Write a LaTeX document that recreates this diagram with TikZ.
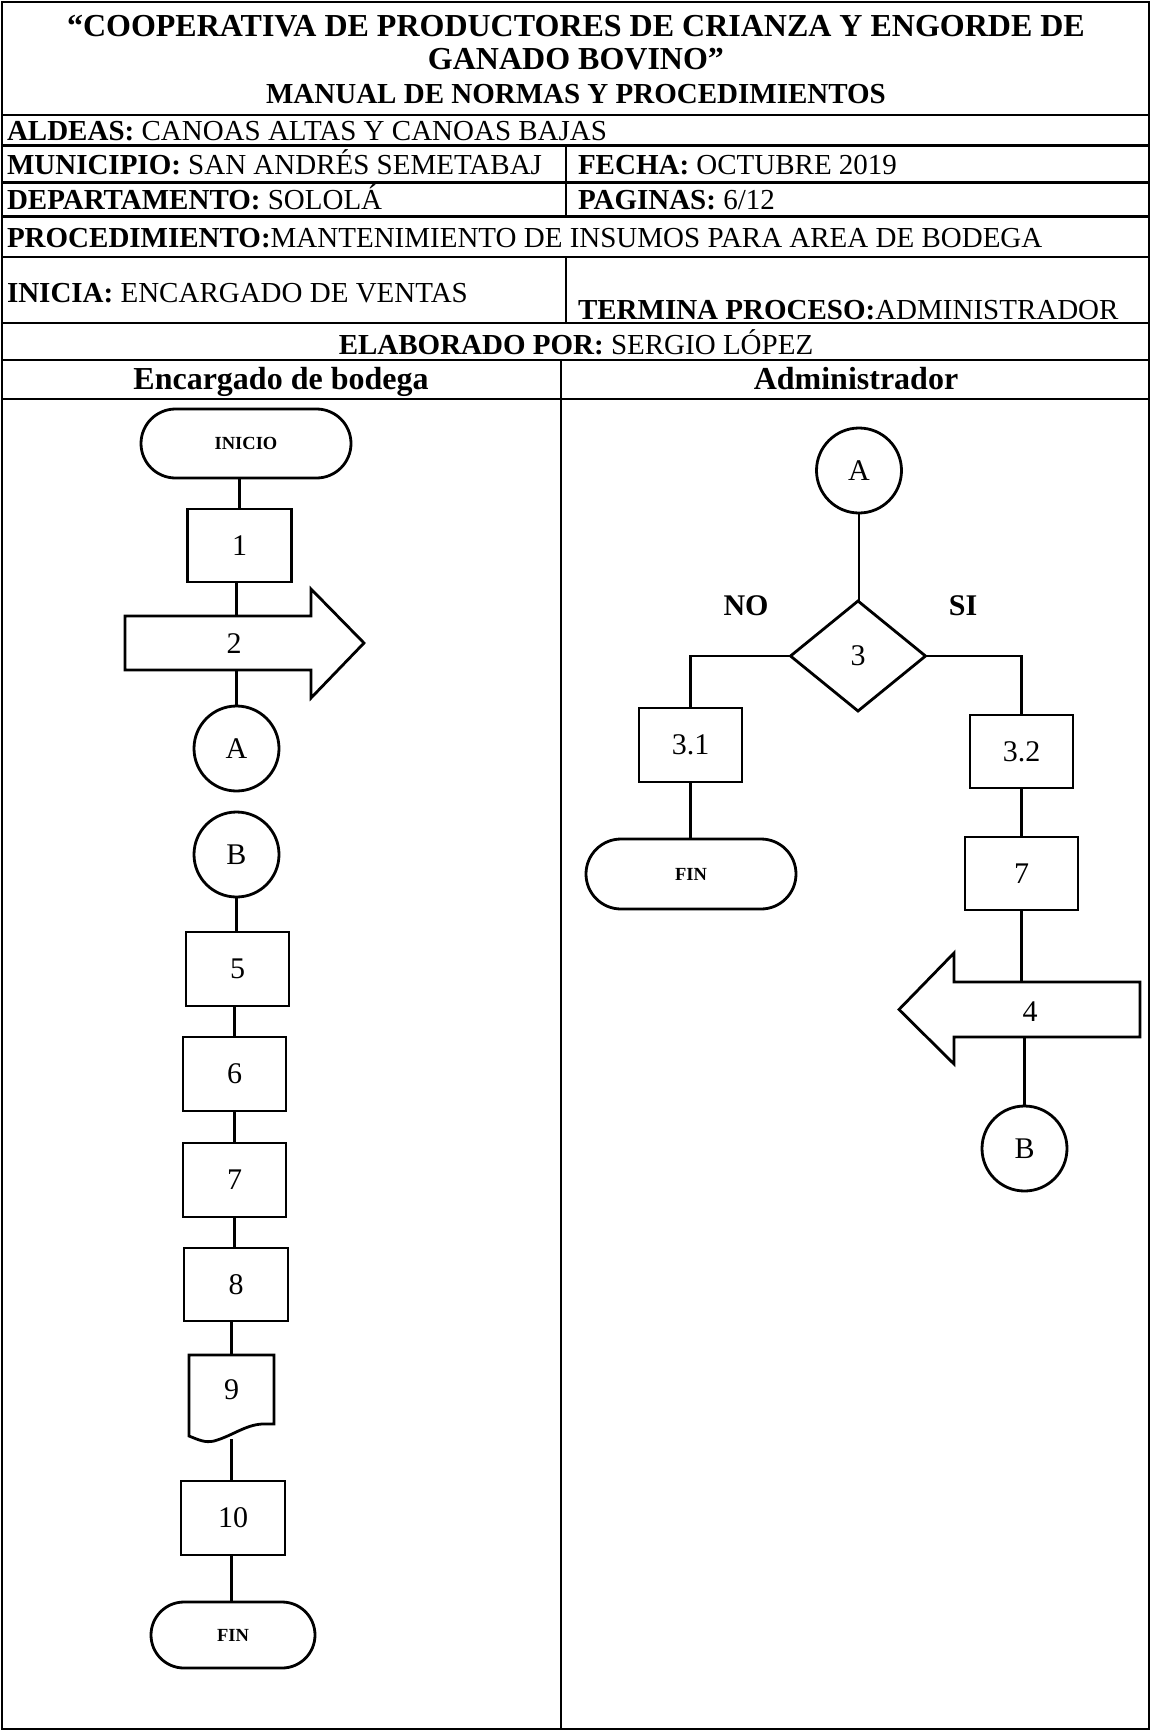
\documentclass[tikz,border=0pt]{standalone}
\usepackage{fontspec}
\setmainfont{Liberation Serif}
\usetikzlibrary{shapes.geometric,shapes.misc}
\newcommand\fttitle{\fontsize{32}{36}\selectfont\bfseries}
\newcommand\ftmanual{\fontsize{29}{33}\selectfont\bfseries}
\newcommand\ftrow{\fontsize{29}{33}\selectfont}
\newcommand\ftlane{\fontsize{32}{36}\selectfont\bfseries}
\newcommand\ftnum{\fontsize{30}{30}\selectfont}
\newcommand\ftterm{\fontsize{18.5}{20}\selectfont\bfseries}
\newcommand\ftlab{\fontsize{30}{30}\selectfont\bfseries}
\begin{document}
\begin{tikzpicture}[x=1pt,y=-1pt,
  every node/.style={inner sep=0pt,outer sep=0pt},
  tline/.style={line width=2.4pt,line cap=rect},
  shp/.style={draw,line width=2.8pt,align=center},
  box/.style={shp,rectangle,minimum width=103pt,minimum height=74pt,font=\ftnum},
  term/.style={shp,rounded rectangle,font=\ftterm},
  conn/.style={shp,circle,minimum size=85pt,font=\ftnum},
  dec/.style={shp,diamond,minimum width=135pt,minimum height=110pt,font=\ftnum},
  body/.style={rectangle,minimum width=186pt},
  outl/.style={line width=2.8pt,line join=miter},
  link/.style={line width=2.8pt},
  hdr/.style={anchor=base west,font=\ftrow},
  lab/.style={font=\ftlab}]
\useasboundingbox (0,0) rectangle (1152,1732);
\fill[white] (0,0) rectangle (1152,1732);

% ---------- table ----------
\draw[tline] (2,2) rectangle (1149,1729);
\foreach \yy in {115,145.5,182.5,216.5,257,323,360,399}
  \draw[tline] (2,\yy) -- (1149,\yy);
\draw[tline] (566,145.5) -- (566,216.5);
\draw[tline] (566,257) -- (566,323);
\draw[tline] (561,360) -- (561,1729);

% ---------- header texts ----------
\node[anchor=base,font=\fttitle] (t1) at (576,36) {“COOPERATIVA DE PRODUCTORES DE CRIANZA Y ENGORDE DE};
\node[anchor=base,font=\fttitle] (t2) at (576,69) {GANADO BOVINO”};
\node[anchor=base,font=\ftmanual] (t3) at (576,103) {MANUAL DE NORMAS Y PROCEDIMIENTOS};
\node[hdr] (h1) at (7,140) {\textbf{ALDEAS:} CANOAS ALTAS Y CANOAS BAJAS};
\node[hdr] (h2) at (7,174) {\textbf{MUNICIPIO:} SAN ANDRÉS SEMETABAJ};
\node[hdr] (h3) at (578,174) {\textbf{FECHA:} OCTUBRE 2019};
\node[hdr] (h4) at (7,209) {\textbf{DEPARTAMENTO:} SOLOLÁ};
\node[hdr] (h5) at (578,209) {\textbf{PAGINAS:} 6/12};
\node[hdr] (h6) at (7,247) {\textbf{PROCEDIMIENTO:}MANTENIMIENTO DE INSUMOS PARA AREA DE BODEGA};
\node[hdr] (h7) at (7,302) {\textbf{INICIA:} ENCARGADO DE VENTAS};
\node[hdr] (h8) at (578,319) {\textbf{TERMINA PROCESO:}ADMINISTRADOR};
\node[anchor=base,font=\ftrow] (h9) at (576,354) {\textbf{ELABORADO POR:} SERGIO LÓPEZ};
\node[anchor=base,font=\ftlane] (l1) at (281,389) {Encargado de bodega};
\node[anchor=base,font=\ftlane] (l2) at (856,389) {Administrador};

% ---------- left lane ----------
\node[term,minimum width=210pt,minimum height=69pt] (ini) at (246,443.5) {INICIO};
\node[box,minimum width=104pt,minimum height=73pt] (b1) at (239.5,545.5) {1};
\node[body,minimum height=54pt] (s2) at (218,643) {};
\draw[outl] (s2.north west) -- (s2.north east) -- ([yshift=27pt]s2.north east)
  -- ([xshift=53pt]s2.east) -- ([yshift=-28pt]s2.south east) -- (s2.south east)
  -- (s2.south west) -- cycle;
\node[font=\ftnum] (n2) at (234,644) {2};
\node[conn] (la) at (236.5,748.5) {A};
\node[conn] (lb) at (236.5,854.5) {B};
\node[box] (b5) at (237.5,969) {5};
\node[box] (b6) at (234.5,1074) {6};
\node[box] (b7) at (234.5,1180) {7};
\node[box,minimum width=104pt,minimum height=73pt] (b8) at (236,1284.5) {8};
\draw[outl] (274,1424) -- (274,1355) -- (189,1355) -- (189,1436)
  .. controls (199,1440) and (205,1443) .. (214,1441)
  .. controls (232,1436) and (245,1425) .. (262,1424) -- cycle;
\node[minimum width=85pt,minimum height=69pt,font=\ftnum] (d9) at (231.5,1389.5) {9};
\coordinate (d9b) at (231.5,1439);
\node[box,minimum width=104pt] (b10) at (233,1518) {10};
\node[term,minimum width=164pt,minimum height=66pt] (fin1) at (233,1635) {FIN};

\draw[link] (b1.north |- ini.south) -- (b1.north);
\draw[link] (b1.south -| la.north) -- (la.north |- s2.north);
\draw[link] (la.north |- s2.south) -- (la.north);
\draw[link] (lb.south) -- (lb.south |- b5.north);
\draw[link] (b5.south -| b6.north) -- (b6.north);
\draw[link] (b6.south) -- (b6.south |- b7.north);
\draw[link] (b7.south) -- (b7.south |- b8.north);
\draw[link] (d9.north |- b8.south) -- (d9.north);
\draw[link] (d9b) -- (d9b |- b10.north);
\draw[link] (d9b |- b10.south) -- (d9b |- fin1.north);

% ---------- right lane ----------
\node[conn] (ra) at (859,470.5) {A};
\node[dec] (d3) at (858,656) {3};
\node[lab] (no) at (746,606) {NO};
\node[lab] (si) at (963,606) {SI};
\node[box] (b31) at (690.5,745) {3.1};
\node[term,minimum width=210pt,minimum height=70pt] (fin2) at (691,874) {FIN};
\node[box,minimum height=73pt] (b32) at (1021.5,751.5) {3.2};
\node[box,minimum width=113pt,minimum height=73pt] (b7r) at (1021.5,873.5) {7};
\node[body,minimum height=55pt] (s4) at (1047,1009.5) {};
\draw[outl] (s4.north east) -- (s4.north west) -- ([yshift=29pt]s4.north west)
  -- ([xshift=-55pt]s4.west) -- ([yshift=-27pt]s4.south west) -- (s4.south west)
  -- (s4.south east) -- cycle;
\node[font=\ftnum] (n4) at (1030,1012) {4};
\node[conn] (rb) at (1024.5,1148.5) {B};

\draw[link] (ra.south) -- (ra.south |- d3.north);
\draw[link] (d3.west) -| (b31.north);
\draw[link] (b31.south) -- (b31.south |- fin2.north);
\draw[link] (d3.east) -| (b32.north);
\draw[link] (b32.south) -- (b32.south |- b7r.north);
\draw[link] (b7r.south) -- (b7r.south |- s4.north);
\draw[link] (rb.north |- s4.south) -- (rb.north);
\end{tikzpicture}
\end{document}
